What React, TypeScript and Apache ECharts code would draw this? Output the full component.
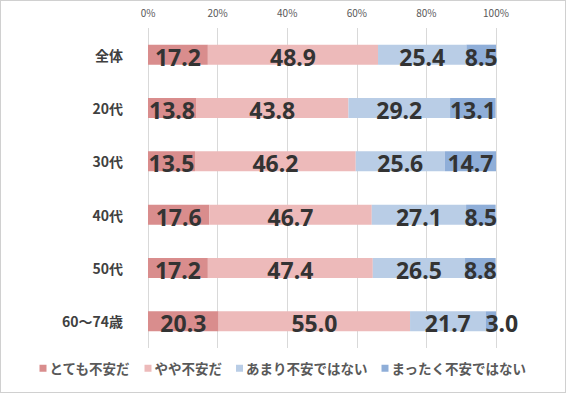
import React, { useEffect, useRef } from "react";
import * as echarts from "echarts";

const categories = ["全体", "20代", "30代", "40代", "50代", "60〜74歳"];
const seriesNames = ["とても不安だ", "やや不安だ", "あまり不安ではない", "まったく不安ではない"];
const veryAnxious = [17.2, 13.8, 13.5, 17.6, 17.2, 20.3];
const somewhatAnxious = [48.9, 43.8, 46.2, 46.7, 47.4, 55.0];
const notVeryAnxious = [25.4, 29.2, 25.6, 27.1, 26.5, 21.7];
const notAtAllAnxious = [8.5, 13.1, 14.7, 8.5, 8.8, 3.0];
const xTicks = [0, 20, 40, 60, 80, 100];

const colors = ["#D98D8D", "#EDBABA", "#B9CDE6", "#8FAED8"];
const FONT = "'Noto Sans CJK JP', 'Noto Sans', sans-serif";

export default function App() {
  const ref = useRef<HTMLDivElement>(null);
  useEffect(() => {
    if (!ref.current) return;
    const chart = echarts.init(ref.current, undefined, { renderer: "svg" });
    const values = [veryAnxious, somewhatAnxious, notVeryAnxious, notAtAllAnxious];
    chart.setOption({
      animation: false,
      textStyle: { fontFamily: FONT },
      grid: { left: 147, right: 69, top: 27, bottom: 44 },
      legend: {
        bottom: 12,
        left: "center",
        itemWidth: 7,
        itemHeight: 7,
        itemGap: 14,
        icon: "rect",
        textStyle: { fontSize: 13.5, color: "#595959", fontWeight: "bold", fontFamily: FONT, padding: [0, 0, 0, -2] },
        data: seriesNames,
      },
      xAxis: {
        type: "value",
        position: "top",
        min: xTicks[0],
        max: xTicks[xTicks.length - 1],
        interval: 20,
        axisLine: { show: false },
        axisTick: { show: false },
        splitLine: { show: true, lineStyle: { color: "#D9D9D9", width: 1 } },
        axisLabel: { formatter: "{value}%", color: "#595959", fontSize: 10, margin: 11, fontFamily: FONT },
      },
      yAxis: {
        type: "category",
        inverse: true,
        data: categories,
        axisLine: { show: false },
        axisTick: { show: false },
        axisLabel: { color: "#404040", fontSize: 14, fontWeight: "bold", margin: 25, fontFamily: FONT },
      },
      series: seriesNames.map((name, i) => ({
        name,
        type: "bar",
        stack: "total",
        barWidth: 20,
        data: values[i].map((v) =>
          i === 3 && v < 5 ? { value: v, label: { offset: [11, 2] } } : v
        ),
        itemStyle: { color: colors[i] },
        label: {
          show: true,
          position: "inside",
          formatter: (p: any) => Number(p.value).toFixed(1),
          color: "#333333",
          fontSize: 23,
          fontWeight: "bold",
          fontFamily: "'Noto Sans', sans-serif",
          offset: [0, 2],
        },
      })),
    });
    return () => chart.dispose();
  }, []);
  return (
    <div
      style={{
        position: "fixed",
        left: 0,
        top: 0,
        width: 566,
        height: 393,
        boxSizing: "border-box",
        border: "1px solid #D0D0D0",
        background: "#fff",
      }}
    >
      <div ref={ref} style={{ width: 564, height: 391 }} />
    </div>
  );
}
